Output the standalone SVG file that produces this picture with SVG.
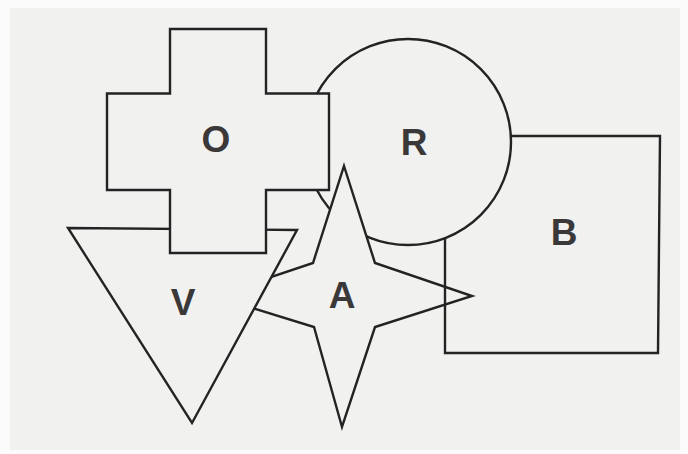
<svg xmlns="http://www.w3.org/2000/svg" width="688" height="454" viewBox="0 0 688 454">
  <style>
    .shape { fill: #f1f1f0; stroke: #232323; stroke-width: 2.4; stroke-linejoin: miter; }
    .open { fill: none; stroke: #232323; stroke-width: 2.4; stroke-linejoin: miter; }
    .label { font-family: "Liberation Sans", Arial, sans-serif; font-weight: bold; font-size: 37px; fill: #3a3838; text-anchor: middle; }
  </style>
  <rect x="0" y="0" width="688" height="454" fill="#fbfbfb"/>
  <rect x="10" y="8" width="670" height="442" fill="#f1f1f0"/>
  <g id="connectors"></g>
  <g id="node-R">
    <circle class="shape" cx="408" cy="142" r="103"/>
    <text class="label" x="414" y="155">R</text>
  </g>
  <g id="node-A">
    <polygon class="shape" points="344,166 375,263 472,296 375,327 342,427 314,327 214,296 313,263"/>
    <text class="label" x="342" y="308">A</text>
  </g>
  <g id="node-B">
    <path class="open" d="M510.8,136 L660,136 L658,353 L445,353 L445,238"/>
    <text class="label" x="564" y="245">B</text>
  </g>
  <g id="node-V">
    <polygon class="shape" points="68,228 297,230 192,423"/>
    <text class="label" x="183" y="315">V</text>
  </g>
  <g id="node-O">
    <polygon class="shape" points="170,29 266,29 266,93.5 329,93.5 329,190 266,190 266,253 170,253 170,190 107,190 107,93.5 170,93.5"/>
    <text class="label" x="216" y="152">O</text>
  </g>
</svg>
